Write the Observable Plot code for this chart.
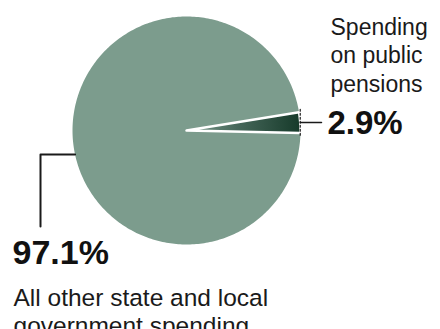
<!DOCTYPE html>
<html>
<head>
<meta charset="utf-8">
<script src="https://cdn.jsdelivr.net/npm/d3@7"></script>
<script src="https://cdn.jsdelivr.net/npm/@observablehq/plot@0.6"></script>
<style>
  html, body { margin: 0; padding: 0; background: #fff; }
  #chart { width: 440px; height: 329px; }
</style>
</head>
<body>
<div id="chart"></div>
<script>
// ---- data ----
const categories = ["Spending on public pensions", "All other state and local government spending"];
const shares = [2.9, 97.1];
const valueLabels = ["2.9%", "97.1%"];
const descLabels = ["Spending\non public\npensions", "All other state and local\ngovernment spending"];

// ---- layout ----
const W = 440, H = 329;
const cx = 186, cy = 130, R = 114;
const startDeg = 80.8; // rotation of the first slice (clockwise from 12 o'clock)
const font = "'Liberation Sans', Arial, Helvetica, sans-serif";

const arcs = d3.pie().sort(null).value(d => d)
  .startAngle(startDeg * Math.PI / 180)
  .endAngle(startDeg * Math.PI / 180 + 2 * Math.PI)(shares);

function slicePoints(a, i) {
  const pts = [{x: cx, y: cy, i}];
  const n = Math.max(2, Math.ceil((a.endAngle - a.startAngle) / (Math.PI / 180)));
  for (let k = 0; k <= n; k++) {
    const t = a.startAngle + (a.endAngle - a.startAngle) * k / n;
    pts.push({x: cx + R * Math.sin(t), y: cy - R * Math.cos(t), i});
  }
  return pts;
}
const otherPts = slicePoints(arcs[1], 1);
const pensionPts = slicePoints(arcs[0], 0);

// leader lines
const pMid = (arcs[0].startAngle + arcs[0].endAngle) / 2;
const pEdge = {x: cx + R * Math.sin(pMid), y: cy - R * Math.cos(pMid)};
const pTickTop = {x: cx + R * Math.sin(arcs[0].startAngle), y: cy - R * Math.cos(arcs[0].startAngle)};
const pTickBot = {x: cx + R * Math.sin(arcs[0].endAngle), y: cy - R * Math.cos(arcs[0].endAngle)};
const pensionLeader = [{x: pEdge.x, y: pEdge.y}, {x: 321, y: pEdge.y}];
const pensionTick = [{x: pEdge.x, y: pTickTop.y - 3}, {x: pEdge.x, y: pTickBot.y + 4}];
const otherY = 154;
const otherEdgeX = cx - Math.sqrt(R * R - (otherY - cy) * (otherY - cy));
const otherLeader = [{x: otherEdgeX, y: otherY}, {x: 40, y: otherY}, {x: 40, y: 226}];

const plot = Plot.plot({
  width: W, height: H,
  margin: 0,
  x: {domain: [0, W], range: [0, W], axis: null},
  y: {domain: [0, H], range: [0, H], axis: null},
  style: {background: "white", fontFamily: font},
  marks: [
    Plot.line(otherPts, {x: "x", y: "y", fill: "#7c9c8d", stroke: "none", curve: "linear-closed"}),
    Plot.line(pensionPts, {x: "x", y: "y", fill: "url(#pensionGrad)", stroke: "white", strokeWidth: 2.5, strokeLinejoin: "round", curve: "linear-closed"}),
    Plot.line(otherLeader, {x: "x", y: "y", stroke: "#1a1a1a", strokeWidth: 2}),
    Plot.line(pensionLeader, {x: "x", y: "y", stroke: "#1a1a1a", strokeWidth: 1.5}),
    Plot.line(pensionTick, {x: "x", y: "y", stroke: "#1a1a1a", strokeWidth: 1.2, strokeDasharray: "2,2"}),
    Plot.text([descLabels[0]], {x: () => 330, y: () => 15, text: d => d, textAnchor: "start", lineAnchor: "top",
      fontSize: 23, lineHeight: 1.22, fill: "#1a1a1a", fontFamily: font}),
    Plot.text([valueLabels[0]], {x: () => 327, y: () => 110, text: d => d, textAnchor: "start", lineAnchor: "top",
      fontSize: 33, fontWeight: "bold", fill: "#111", fontFamily: font}),
    Plot.text([valueLabels[1]], {x: () => 12, y: () => 239, text: d => d, textAnchor: "start", lineAnchor: "top",
      fontSize: 34, fontWeight: "bold", fill: "#111", fontFamily: font}),
    Plot.text([descLabels[1]], {x: () => 13, y: () => 285, text: d => d, textAnchor: "start", lineAnchor: "top",
      fontSize: 24.5, lineHeight: 1.15, fill: "#1a1a1a", fontFamily: font, letterSpacing: 0.35})
  ]
});

const svg = d3.select(plot);
const defs = svg.insert("defs", ":first-child");
const g = defs.append("linearGradient").attr("id", "pensionGrad")
  .attr("gradientUnits", "userSpaceOnUse")
  .attr("x1", cx).attr("y1", cy).attr("x2", cx + R).attr("y2", cy);
g.append("stop").attr("offset", "0").attr("stop-color", "#7c9c8d");
g.append("stop").attr("offset", "0.45").attr("stop-color", "#46675a");
g.append("stop").attr("offset", "1").attr("stop-color", "#163a2a");

document.getElementById("chart").appendChild(plot);
</script>
</body>
</html>
